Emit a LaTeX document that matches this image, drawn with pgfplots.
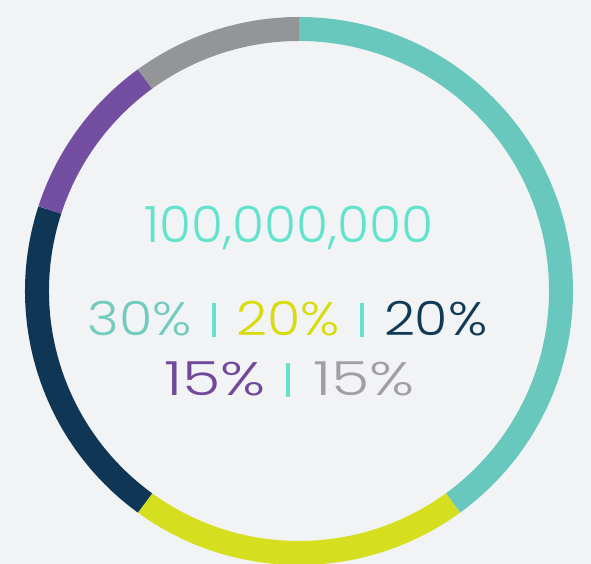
\documentclass[border=0pt]{standalone}
\usepackage{pgfplots}
\pgfplotsset{compat=1.18}
\usepackage{pgfplotstable}
\usepackage{graphicx}
\usepackage{fontspec}
\setmainfont{Poppins Light}
\definecolor{bg}{HTML}{F1F3F5}
\definecolor{cteal}{HTML}{68C8BE}
\definecolor{cyellow}{HTML}{D5DF1F}
\definecolor{cnavy}{HTML}{0F3755}
\definecolor{cpurple}{HTML}{744EA0}
\definecolor{cgray}{HTML}{949599}
\definecolor{tbig}{HTML}{62E3CC}
\definecolor{tteal}{HTML}{72CBBF}
\definecolor{tyellow}{HTML}{D7DC0A}
\definecolor{tnavy}{HTML}{113A56}
\definecolor{tpurple}{HTML}{71489A}
\definecolor{tgray}{HTML}{A0A0A2}
\pgfdeclareplotmark{emptymark}{}
% segment shares (percent): 40, 20, 20, 10, 10 -> angles clockwise from top
\pgfplotstableread{
x y start end
299 -291 90 -54
}\segA
\pgfplotstableread{
x y start end
299 -291 -54 -126
}\segB
\pgfplotstableread{
x y start end
299 -291 -126 -198
}\segC
\pgfplotstableread{
x y start end
299 -291 -198 -234
}\segD
\pgfplotstableread{
x y start end
299 -291 -234 -270
}\segE
\pgfplotsset{
  ringseg/.style={only marks, mark=emptymark, scatter,
    visualization depends on={\thisrow{start}\as\sa},
    visualization depends on={\thisrow{end}\as\ea},
    scatter/@pre marker code/.code={%
      \draw[#1, line width=24pt, line cap=butt] (\sa:262pt) arc[start angle=\sa, end angle=\ea, radius=262pt];},
    scatter/@post marker code/.code={}}
}
\newcommand{\sep}{\hspace{20pt}\textcolor{tbig}{\rule[-1pt]{4.5pt}{34pt}}\hspace{20pt}}
\newcommand{\sepb}{\hspace{20pt}\textcolor{tbig}{\rule[-1pt]{4.5pt}{34pt}}\hspace{23pt}}
\newcommand{\pc}[2]{\textcolor{#1}{\scalebox{1.15}[1]{#2}}}
\newcommand{\pcb}[2]{\textcolor{#1}{\scalebox{1.32}[1]{#2}}}
\begin{document}
\begin{tikzpicture}
\begin{axis}[
  scale only axis, width=591pt, height=564pt,
  xmin=0, xmax=591, ymin=-564, ymax=0,
  hide axis, clip marker paths=true, clip=true]
\addplot[fill=bg, draw=none] coordinates {(0,0) (591,0) (591,-564) (0,-564) (0,0)};
\addplot[ringseg=cteal] table {\segA};
\addplot[ringseg=cyellow] table {\segB};
\addplot[ringseg=cnavy] table {\segC};
\addplot[ringseg=cpurple] table {\segD};
\addplot[ringseg=cgray] table {\segE};
\node[anchor=base, inner sep=0pt, font=\fontsize{50}{50}\selectfont, text=tbig] at (axis cs:289,-243) {\scalebox{1.04}[1]{100,000,000}};
\node[anchor=base, inner sep=0pt, font=\fontsize{47}{47}\selectfont] at (axis cs:287.5,-336)
  {\pc{tteal}{30\%}\sep\pc{tyellow}{20\%}\sep\pc{tnavy}{20\%}};
\node[anchor=base, inner sep=0pt, font=\fontsize{47}{47}\selectfont] at (axis cs:289.5,-396)
  {\pcb{tpurple}{15\%}\sepb\pcb{tgray}{15\%}};
\end{axis}
\end{tikzpicture}
\end{document}
